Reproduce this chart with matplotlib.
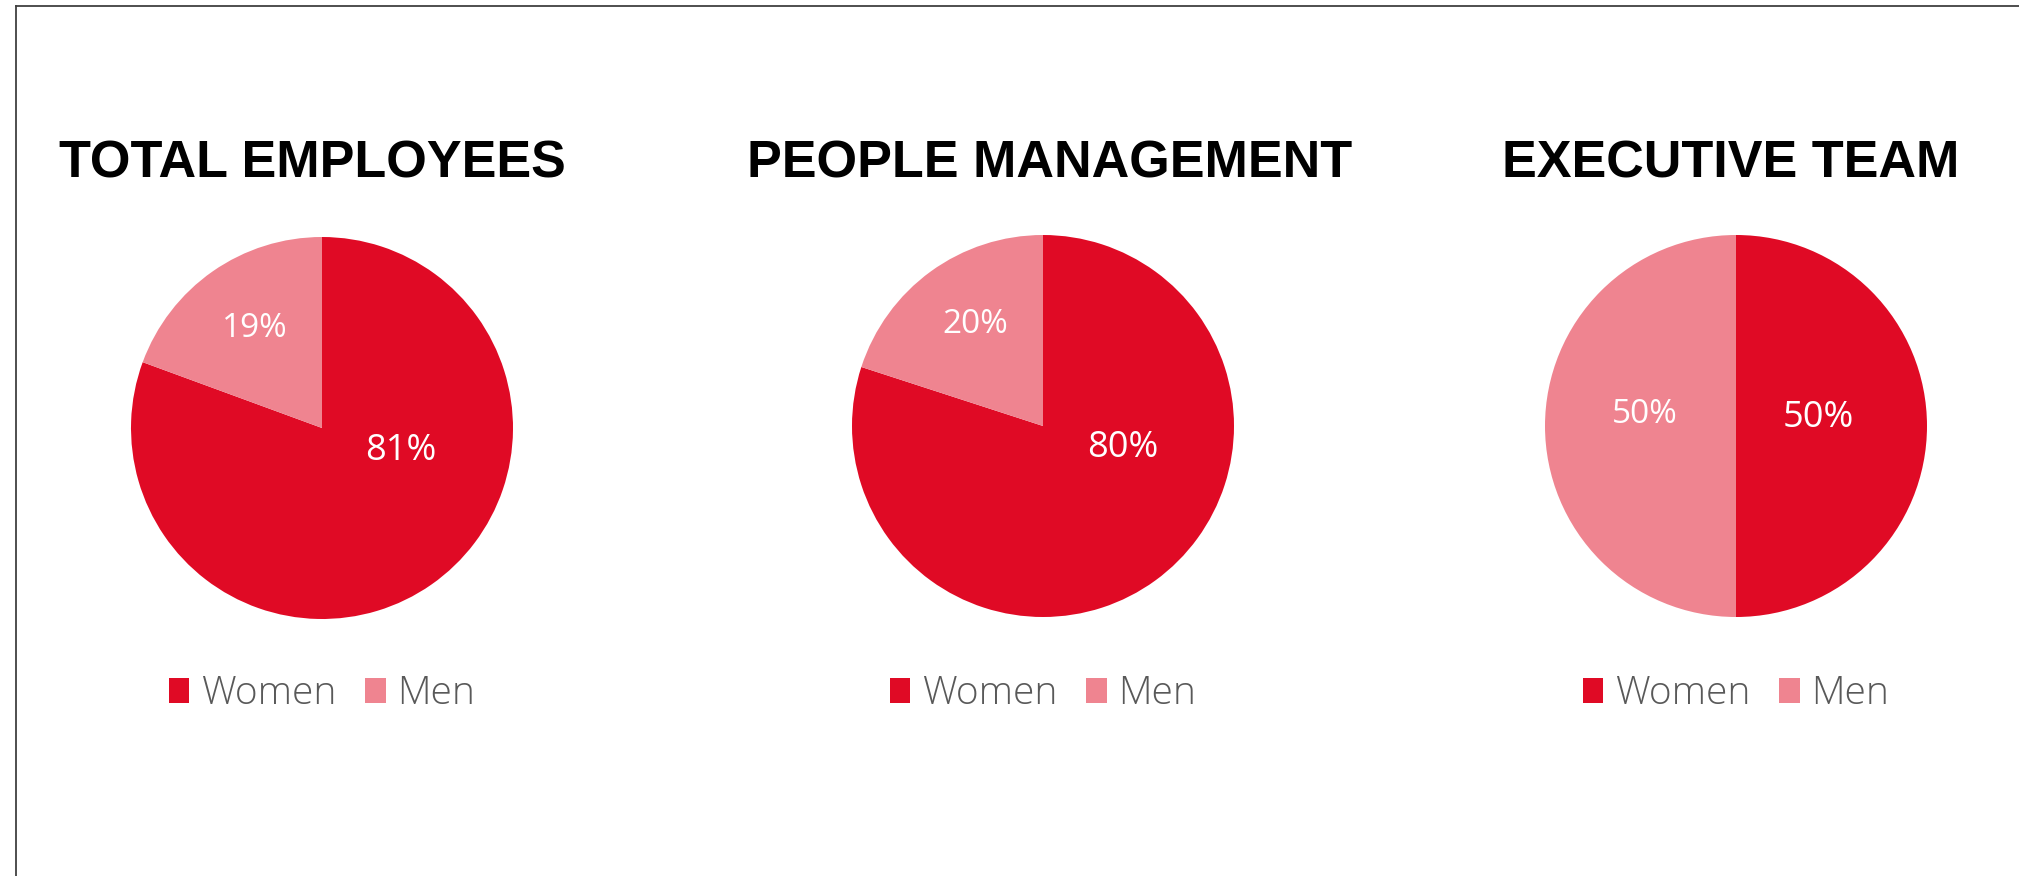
import matplotlib
matplotlib.use("Agg")
import matplotlib.pyplot as plt
from matplotlib.patches import Patch
from matplotlib.lines import Line2D

# ---- data ----
titles = ["TOTAL EMPLOYEES", "PEOPLE MANAGEMENT", "EXECUTIVE TEAM"]
categories = ["Women", "Men"]
women_pct = [80.6, 80, 50]
men_pct = [19.4, 20, 50]

# ---- style / layout ----
W, H, DPI = 2019, 876, 100
colors = ["#E00A25", "#EF8490"]
pie_centers = [(322, 428), (1043, 426), (1736, 426)]   # pixels from top-left
radius_px = 191
title_cx = [312, 1050, 1731]
title_baseline = 177
legend_y = 694
# label offsets (in pie radius units) for Women, Men
label_pos = [[(0.414, -0.12), (-0.35, 0.52)],
             [(0.42, -0.115), (-0.356, 0.53)],
             [(0.433, 0.04), (-0.48, 0.06)]]

fig = plt.figure(figsize=(W / DPI, H / DPI), dpi=DPI)
fig.patch.set_facecolor("white")

# frame lines (top and left)
fig.add_artist(Line2D([16 / W, 16 / W], [0, 1 - 6 / H], transform=fig.transFigure,
                      color="#404040", lw=1.3))
fig.add_artist(Line2D([16 / W, 1], [1 - 6 / H, 1 - 6 / H], transform=fig.transFigure,
                      color="#404040", lw=1.3))

for i in range(3):
    cx, cy = pie_centers[i]
    r = radius_px
    ax = fig.add_axes([(cx - r) / W, (H - cy - r) / H, 2 * r / W, 2 * r / H])
    vals = [women_pct[i], men_pct[i]]
    wedges, _ = ax.pie(vals, colors=colors, startangle=90, counterclock=False,
                       radius=1.0, wedgeprops=dict(linewidth=0))
    ax.set_xlim(-1, 1)
    ax.set_ylim(-1, 1)
    ax.set_aspect("equal")
    ax.axis("off")
    sizes = [26, 24]
    for j, v in enumerate(vals):
        x, y = label_pos[i][j]
        ax.text(x, y, f"{v:.0f}%", ha="center", va="center", color="white",
                fontsize=sizes[j], family="Open Sans")
    # title
    fig.text(title_cx[i] / W, 1 - title_baseline / H, titles[i], ha="center",
             va="baseline", fontsize=37.5, fontweight="bold",
             family="Liberation Sans", color="black")
    # legend
    handles = [Patch(facecolor=colors[k], edgecolor="none", label=categories[k])
               for k in range(2)]
    leg = fig.legend(handles=handles, loc="center", ncol=2,
                     bbox_to_anchor=(cx / W, 1 - legend_y / H),
                     bbox_transform=fig.transFigure, frameon=False,
                     handlelength=0.52, handleheight=0.62, handletextpad=0.3,
                     columnspacing=0.75,
                     prop=dict(family="Open Sans", weight="light", size=28))
    for t in leg.get_texts():
        t.set_color("#595959")

fig.savefig("out.png", dpi=DPI, facecolor="white")
